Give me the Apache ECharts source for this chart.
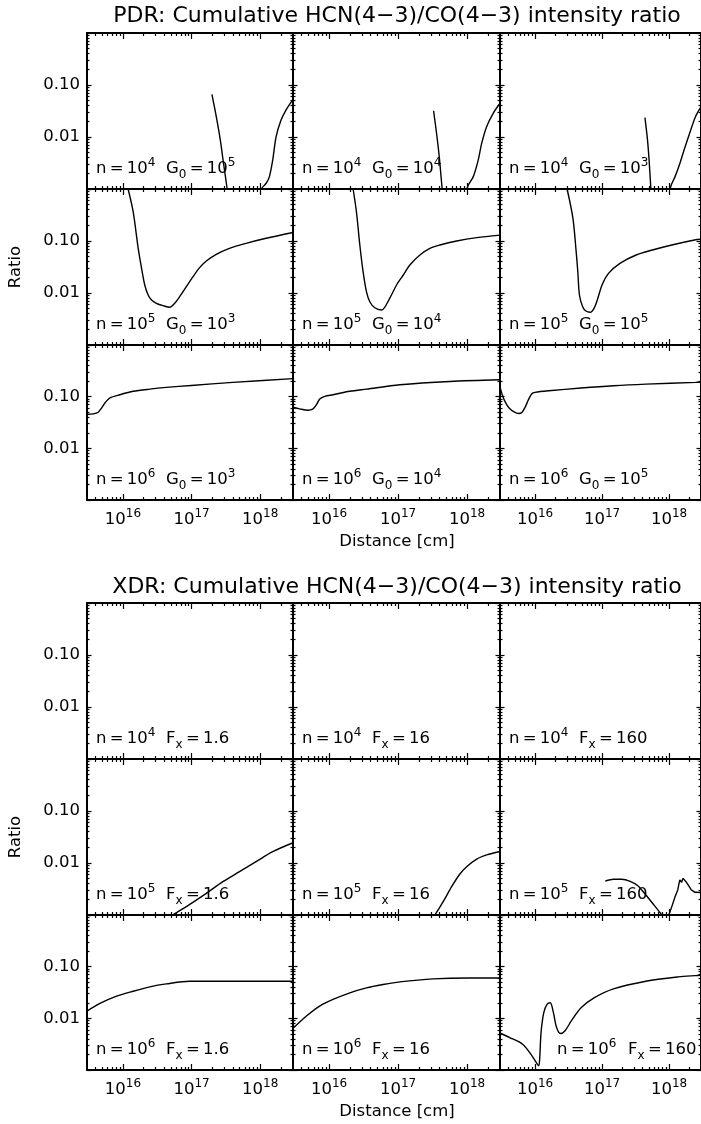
<!DOCTYPE html>
<html><head><meta charset="utf-8">
<script src="https://cdn.jsdelivr.net/npm/echarts@6/dist/echarts.min.js"></script>
<style>html,body{margin:0;padding:0;background:#fff}#c{width:701px;height:1124px}</style>
</head><body><div id="c"></div>
<script>
// ---------- axis ranges & ticks ----------
const X_MIN = 3e15, X_MAX = 3e18;
const Y_MIN = 0.001, Y_MAX = 1;
const X_MAJOR = [1e16, 1e17, 1e18];
const X_MINOR = [4e15,5e15,6e15,7e15,8e15,9e15,2e16,3e16,4e16,5e16,6e16,7e16,8e16,9e16,2e17,3e17,4e17,5e17,6e17,7e17,8e17,9e17,2e18];
const Y_MAJOR = [0.001, 0.01, 0.1, 1];
const Y_MINOR = [0.002,0.003,0.004,0.005,0.006,0.007,0.008,0.009,0.02,0.03,0.04,0.05,0.06,0.07,0.08,0.09,0.2,0.3,0.4,0.5,0.6,0.7,0.8,0.9];
const X_TICK_LABELS = [1e16, 1e17, 1e18];
const Y_TICK_LABELS = [0.01, 0.1];

// ---------- texts ----------
const TITLE_PDR = 'PDR: Cumulative HCN(4\u22123)/CO(4\u22123) intensity ratio';
const TITLE_XDR = 'XDR: Cumulative HCN(4\u22123)/CO(4\u22123) intensity ratio';
const Y_NAME = 'Ratio';
const X_NAME = 'Distance [cm]';
const PDR_N = ['4', '5', '6'];
const PDR_G0 = [['5', '4', '3'], ['3', '4', '5'], ['3', '4', '5']];
const XDR_N = ['4', '5', '6'];
const XDR_FX = ['1.6', '16', '160'];

// ---------- PDR curves [distance cm, ratio] ----------
const PDR_N4_G5_A = [[1.98e17,0.066],[2.29e17,0.0246],[2.62e17,0.0088],[2.92e17,0.0031],[3.3e17,0.001],[3.36e17,0.0008]];
const PDR_N4_G5_B = [[1.0e18,0.0008],[1.03e18,0.001],[1.22e18,0.00129],[1.36e18,0.00173],[1.52e18,0.00361],[1.70e18,0.0101],[2.01e18,0.0212],[2.37e18,0.033],[3e18,0.053]];
const PDR_N4_G4_A = [[3.27e17,0.032],[3.61e17,0.0118],[3.95e17,0.0042],[4.32e17,0.00112],[4.42e17,0.0008]];
const PDR_N4_G4_B = [[0.99e18,0.0008],[1.02e18,0.00112],[1.23e18,0.00173],[1.45e18,0.0036],[1.63e18,0.0076],[1.92e18,0.0158],[2.40e18,0.0288],[3e18,0.0445]];
const PDR_N4_G3_A = [[4.37e17,0.0235],[4.77e17,0.0088],[5.04e17,0.0036],[5.33e17,0.00112],[5.42e17,0.0008]];
const PDR_N4_G3_B = [[1.03e18,0.0008],[1.06e18,0.00112],[1.23e18,0.00173],[1.45e18,0.0031],[1.71e18,0.0061],[2.03e18,0.0118],[2.48e18,0.0246],[3e18,0.038]];
const PDR_N5_G3 = [[1.19e16,1.0],[1.41e16,0.366],[1.67e16,0.0723],[1.87e16,0.0299],[2.08e16,0.01426],[2.33e16,0.00916],[2.61e16,0.00733],[3.08e16,0.00634],[3.85e16,0.0057],[4.81e16,0.00531],[5.68e16,0.00634],[6.71e16,0.00849],[8.39e16,0.0132],[1.05e17,0.0206],[1.31e17,0.0307],[1.64e17,0.0412],[2.29e17,0.0554],[3.56e17,0.0723],[6.23e17,0.0903],[1.22e18,0.1127],[3e18,0.146]];
const PDR_N5_G4 = [[2.23e16,1.0],[2.49e16,0.366],[2.79e16,0.0838],[3.11e16,0.0257],[3.48e16,0.0106],[3.89e16,0.0068],[4.6e16,0.0052],[5.75e16,0.0047],[7.59e16,0.008],[9.5e16,0.01426],[1.19e17,0.0222],[1.48e17,0.0345],[2.07e17,0.0538],[2.89e17,0.0723],[4.04e17,0.0838],[7.06e17,0.1],[1.38e18,0.116],[3e18,0.13]];
const PDR_N5_G5 = [[3.01e16,1.0],[3.68e16,0.273],[4.11e16,0.0623],[4.35e16,0.0257],[4.6e16,0.00916],[5.14e16,0.00545],[5.74e16,0.0045],[6.65e16,0.00425],[7.6e16,0.00507],[8.5e16,0.00733],[1.0e17,0.0143],[1.25e17,0.0239],[1.85e17,0.0372],[3.23e17,0.0538],[5.64e17,0.0671],[1.1e18,0.0838],[2.4e18,0.1045],[3e18,0.108]];
const PDR_N6_G3 = [[3e15,0.0451],[3.7e15,0.0464],[4.37e15,0.050],[4.9e15,0.0605],[5.47e15,0.0755],[6.47e15,0.0944],[9.04e15,0.109],[1.41e16,0.127],[2.46e16,0.140],[4.3e16,0.151],[9.9e16,0.165],[3.98e17,0.189],[3e18,0.223]];
const PDR_N6_G4 = [[3e15,0.0623],[3.75e15,0.058],[4.95e15,0.0546],[5.85e15,0.058],[6.56e15,0.0702],[7.33e15,0.090],[8.65e15,0.1014],[1.14e16,0.109],[2.0e16,0.127],[3.48e16,0.140],[1.06e17,0.170],[5.64e17,0.197],[3e18,0.212]];
const PDR_N6_G5 = [[3e15,0.155],[3.24e15,0.109],[3.55e15,0.0813],[4.1e15,0.0605],[4.95e15,0.050],[5.72e15,0.0471],[6.4e15,0.050],[7.15e15,0.0633],[7.98e15,0.0876],[8.95e15,0.114],[1.0e16,0.121],[1.6e16,0.130],[4.86e16,0.147],[1.48e17,0.163],[4.51e17,0.175],[2.48e18,0.189],[3e18,0.191]];

// ---------- XDR curves [distance cm, ratio] ----------
const XDR_N5_F1 = [[5.2e16,0.0009],[5.37e16,0.001],[8.4e16,0.00145],[1.64e17,0.00261],[2.85e17,0.00437],[4.99e17,0.0068],[8.7e17,0.0106],[1.52e18,0.0165],[3e18,0.0245]];
const XDR_N5_F2 = [[3.35e17,0.0009],[3.42e17,0.001],[4.51e17,0.0018],[5.97e17,0.0035],[7.87e17,0.00614],[9.86e17,0.0085],[1.38e18,0.0119],[1.92e18,0.0143],[3e18,0.0166]];
const XDR_N5_F3_A = [[1.12e17,0.0045],[1.48e17,0.00486],[1.96e17,0.00486],[2.58e17,0.0045],[3.42e17,0.00366],[4.51e17,0.00243],[5.96e17,0.00156],[7.45e17,0.00108],[8.3e17,0.00088]];
const XDR_N5_F3_B = [[9.8e17,0.00095],[1.1e18,0.00145],[1.23e18,0.00225],[1.35e18,0.00303],[1.41e18,0.00407],[1.45e18,0.00471],[1.54e18,0.00425],[1.62e18,0.00507],[1.71e18,0.00522],[1.82e18,0.00425],[1.96e18,0.00366],[2.15e18,0.00303],[2.45e18,0.00273],[3e18,0.0027]];
const XDR_N6_F1 = [[3e15,0.0138],[4.63e15,0.0194],[8.1e15,0.0268],[1.41e16,0.0335],[2.46e16,0.0407],[4.3e16,0.0464],[9.4e16,0.0522],[3e18,0.0522]];
const XDR_N6_F2 = [[3e15,0.0064],[4.7e15,0.0111],[7.3e15,0.0173],[1.14e16,0.0232],[2.0e16,0.0312],[3.48e16,0.0389],[6.07e16,0.0451],[1.06e17,0.0507],[3.23e17,0.058],[1.04e18,0.0605],[3e18,0.0605]];
const XDR_N6_F3 = [[3e15,0.0052],[4.19e15,0.00425],[6.53e15,0.00316],[8.65e15,0.00203],[1.08e16,0.0013],[1.14e16,0.00121],[1.18e16,0.00189],[1.23e16,0.0053],[1.35e16,0.0129],[1.51e16,0.0186],[1.69e16,0.02],[1.88e16,0.0129],[2.1e16,0.00662],[2.4e16,0.00507],[2.79e16,0.0057],[3.48e16,0.0089],[4.86e16,0.016],[7.59e16,0.0249],[1.48e17,0.0372],[4.51e17,0.0522],[1.37e18,0.0633],[2.48e18,0.0671],[3e18,0.068]];

// ---------- layout ----------
const FONT = 'DejaVu Sans';
const FS = 16.5;
const SFS = 12;
const EQ = '\u2009=\u2009';
const COLS = [{left: 87, width: 206}, {left: 293, width: 207}, {left: 500, width: 207}];
const BLOCKS = [
  {tops: [33, 189, 345], heights: [156, 156, 155], title: TITLE_PDR, titleY: 16, ratioY: 267, distY: 542},
  {tops: [603, 759, 915], heights: [156, 156, 155], title: TITLE_XDR, titleY: 587, ratioY: 837, distY: 1112}
];
const CURVES = [
  [[[PDR_N4_G5_A, PDR_N4_G5_B], [PDR_N4_G4_A, PDR_N4_G4_B], [PDR_N4_G3_A, PDR_N4_G3_B]],
   [[PDR_N5_G3], [PDR_N5_G4], [PDR_N5_G5]],
   [[PDR_N6_G3], [PDR_N6_G4], [PDR_N6_G5]]],
  [[[], [], []],
   [[XDR_N5_F1], [XDR_N5_F2], [XDR_N5_F3_A, XDR_N5_F3_B]],
   [[XDR_N6_F1], [XDR_N6_F2], [XDR_N6_F3]]]
];
const NOT_SMOOTH = [XDR_N5_F3_B];

const RICH = {
  t: {fontFamily: FONT, fontSize: FS, lineHeight: 24, verticalAlign: 'middle', fill: '#000'},
  p: {fontFamily: FONT, fontSize: SFS, lineHeight: 14, verticalAlign: 'top', fill: '#000'},
  b: {fontFamily: FONT, fontSize: SFS, lineHeight: 10, verticalAlign: 'bottom', fill: '#000'}
};
const AXIS_RICH = {
  t: {fontFamily: FONT, fontSize: FS, lineHeight: 24, verticalAlign: 'middle', color: '#000'},
  p: {fontFamily: FONT, fontSize: SFS, lineHeight: 14, verticalAlign: 'top', color: '#000'}
};

const grids = [], xAxes = [], yAxes = [], series = [], graphics = [];

function xAxis(gi, pos, vals, len, line, labels) {
  return {
    gridIndex: gi, type: 'log', logBase: 10, min: X_MIN, max: X_MAX, position: pos,
    axisLine: {show: line, onZero: false, lineStyle: {color: '#000', width: 2}},
    axisTick: {show: true, inside: true, length: len, customValues: vals, lineStyle: {color: '#000', width: 1.2}},
    axisLabel: labels ? {
      show: true, customValues: X_TICK_LABELS, margin: 8, color: '#000',
      formatter: v => '{t|10}{p|' + Math.round(Math.log10(v)) + '}', rich: AXIS_RICH
    } : {show: false},
    splitLine: {show: false}, minorTick: {show: false}, axisPointer: {show: false}
  };
}
function yAxis(gi, pos, vals, len, line, labels) {
  return {
    gridIndex: gi, type: 'log', logBase: 10, min: Y_MIN, max: Y_MAX, position: pos,
    axisLine: {show: line, onZero: false, lineStyle: {color: '#000', width: 2}},
    axisTick: {show: true, inside: true, length: len, customValues: vals, lineStyle: {color: '#000', width: 1.2}},
    axisLabel: labels ? {
      show: true, customValues: Y_TICK_LABELS, margin: 7, color: '#000',
      fontFamily: FONT, fontSize: FS, formatter: v => v.toFixed(2)
    } : {show: false},
    splitLine: {show: false}, minorTick: {show: false}, axisPointer: {show: false}
  };
}

BLOCKS.forEach((blk, b) => {
  for (let r = 0; r < 3; r++) {
    for (let c = 0; c < 3; c++) {
      const gi = grids.length;
      const top = blk.tops[r], h = blk.heights[r];
      const col = COLS[c];
      grids.push({left: col.left, top: top, width: col.width, height: h, containLabel: false});
      const lastRow = r === 2;
      xAxes.push(xAxis(gi, 'bottom', X_MAJOR, 6, true, lastRow));
      xAxes.push(xAxis(gi, 'bottom', X_MINOR, 3, false, false));
      xAxes.push(xAxis(gi, 'top', X_MAJOR, 6, true, false));
      xAxes.push(xAxis(gi, 'top', X_MINOR, 3, false, false));
      yAxes.push(yAxis(gi, 'left', Y_MAJOR, 4.5, true, c === 0));
      yAxes.push(yAxis(gi, 'left', Y_MINOR, 2.5, false, false));
      yAxes.push(yAxis(gi, 'right', Y_MAJOR, 4.5, true, false));
      yAxes.push(yAxis(gi, 'right', Y_MINOR, 2.5, false, false));
      CURVES[b][r][c].forEach(seg => {
        series.push({
          type: 'line', xAxisIndex: 4 * gi, yAxisIndex: 4 * gi, data: seg,
          showSymbol: false, symbol: 'none', clip: true,
          smooth: NOT_SMOOTH.includes(seg) ? false : 0.3,
          lineStyle: {color: '#000', width: 1.4}, silent: true, animation: false
        });
      });
      // panel label
      const bottom = top + h;
      let nOff = 9, pOff = 79;
      if (b === 1 && r === 2 && c === 2) { nOff = 57; pOff = 128; }
      const nExp = b === 0 ? PDR_N[r] : XDR_N[r];
      const pText = b === 0
        ? '{t|G}{b|0}{t|' + EQ + '10}{p|' + PDR_G0[r][c] + '}'
        : '{t|F}{b|x}{t|' + EQ + XDR_FX[c] + '}';
      graphics.push({type: 'text', x: col.left + nOff, y: bottom - 32, silent: true,
        style: {text: '{t|n' + EQ + '10}{p|' + nExp + '}', rich: RICH, align: 'left', verticalAlign: 'top', fill: '#000'}});
      graphics.push({type: 'text', x: col.left + pOff, y: bottom - 32, silent: true,
        style: {text: pText, rich: RICH, align: 'left', verticalAlign: 'top', fill: '#000'}});
    }
  }
  graphics.push({type: 'text', x: 397, y: blk.titleY, silent: true,
    style: {text: blk.title, fontFamily: FONT, fontSize: 22, fill: '#000', align: 'center', verticalAlign: 'middle'}});
  graphics.push({type: 'text', x: 16, y: blk.ratioY, rotation: Math.PI / 2, silent: true,
    style: {text: Y_NAME, fontFamily: FONT, fontSize: FS, fill: '#000', align: 'center', verticalAlign: 'middle'}});
  graphics.push({type: 'text', x: 397, y: blk.distY, silent: true,
    style: {text: X_NAME, fontFamily: FONT, fontSize: FS, fill: '#000', align: 'center', verticalAlign: 'middle'}});
});

const chart = echarts.init(document.getElementById('c'), null, {renderer: 'canvas'});
chart.setOption({
  animation: false,
  backgroundColor: '#fff',
  grid: grids,
  xAxis: xAxes,
  yAxis: yAxes,
  series: series,
  graphic: graphics
});
</script>
</body></html>
